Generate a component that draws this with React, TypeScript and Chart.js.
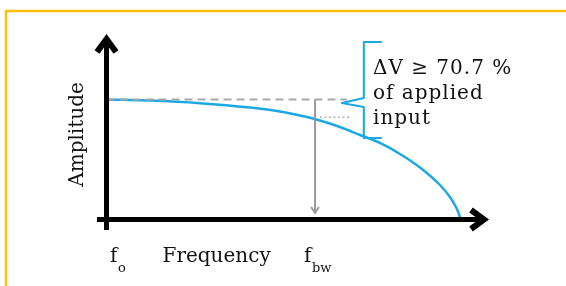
import React, { useEffect, useRef } from "react";
import { Chart, registerables } from "chart.js";

Chart.register(...registerables);

// Response curve (frequency in arbitrary units, fo = 0, end of band = 100; amplitude in % of applied input)
const frequency = [0, 12.31, 26.45, 40.59, 49.08, 54.74, 60.4, 66.05, 71.71, 77.37, 83.03, 88.68, 94.34, 97.17, 98.87, 99.72, 100];
const amplitude = [100, 99.08, 96.92, 93.25, 90.0, 86.67, 82.5, 77.08, 70.42, 63.75, 54.58, 43.33, 28.75, 18.75, 10.42, 4.58, 1.25];

// Annotation values
const appliedLevel = [100, 100];
const appliedRange = [0, 68];
const bandwidthFreq = [59, 59];
const bandwidthDrop = [100, 5.4];
const arrowHeadX = [57.9, 59, 60.1];
const arrowHeadY = [10.4, 5.4, 10.4];
const cutoffLevel = [85.2, 85.2];
const cutoffRange = [60.4, 69.2];
const braceX = [77.9, 72.8, 72.8, 66.6, 72.8, 72.8, 77.9];
const braceY = [147.9, 147.9, 101.25, 97.1, 93.75, 67.9, 67.9];

// Axis extents
const axisMaxX = [108.5];
const axisMaxY = [155.4];

// Text
const noteLines = ["ΔV ≥ 70.7 %", "of applied", "input"];
const xTitle = ["Frequency"];
const yTitle = ["Amplitude"];
const tickMain = ["f", "f"];
const tickSub = ["o", "bw"];
const tickAt = [0, 59];

const BLUE = "#1ba9e6";
const GREY = "#a8a8a8";
const YELLOW = "#ffbf0f";
const FONT = "'DejaVu Serif', serif";

const pts = (xs: number[], ys: number[]) => xs.map((x, i) => ({ x, y: ys[i] }));

const decorPlugin = {
  id: "decor",
  beforeDraw(chart: any) {
    const ctx = chart.ctx;
    ctx.save();
    ctx.fillStyle = "#ffffff";
    ctx.fillRect(0, 0, chart.width, chart.height);
    ctx.strokeStyle = YELLOW;
    ctx.lineWidth = 2.5;
    ctx.beginPath();
    ctx.moveTo(6, chart.height + 5);
    ctx.lineTo(6, 11);
    ctx.lineTo(chart.width + 5, 11);
    ctx.stroke();
    ctx.restore();
  },
  afterDatasetsDraw(chart: any) {
    const ctx = chart.ctx;
    const xs = chart.scales.x;
    const ys = chart.scales.y;
    const x0 = xs.getPixelForValue(0);
    const y0 = ys.getPixelForValue(0);
    const xEnd = xs.getPixelForValue(axisMaxX[0]);
    const yTop = ys.getPixelForValue(axisMaxY[0]);
    ctx.save();
    ctx.strokeStyle = "#000";
    ctx.lineWidth = 5;
    ctx.lineCap = "butt";
    ctx.lineJoin = "miter";
    // axes
    ctx.beginPath();
    ctx.moveTo(x0, y0 + 10.5);
    ctx.lineTo(x0, yTop + 6);
    ctx.moveTo(x0 - 9.5, y0);
    ctx.lineTo(xEnd - 6, y0);
    ctx.stroke();
    // arrow heads
    ctx.lineWidth = 6;
    ctx.beginPath();
    ctx.moveTo(x0 - 9.5, yTop + 19);
    ctx.lineTo(x0, yTop + 6);
    ctx.lineTo(x0 + 9.5, yTop + 19);
    ctx.stroke();
    ctx.beginPath();
    ctx.moveTo(xEnd - 19, y0 - 9.5);
    ctx.lineTo(xEnd - 6, y0);
    ctx.lineTo(xEnd - 19, y0 + 9.5);
    ctx.stroke();

    // texts
    ctx.fillStyle = "#111";
    ctx.textBaseline = "alphabetic";
    ctx.textAlign = "left";
    ctx.font = `20px ${FONT}`;
    ctx.fillText(xTitle[0], 162.5, 261.7);
    tickMain.forEach((m, i) => {
      const px = xs.getPixelForValue(tickAt[i]) + (i === 0 ? 3.5 : -11);
      ctx.font = `20px ${FONT}`;
      ctx.fillText(m, px, 261.7);
      const w = ctx.measureText(m).width;
      ctx.font = `13px ${FONT}`;
      ctx.fillText(tickSub[i], px + w + 0.5, 272);
    });
    ctx.save();
    ctx.translate(83.3, 134.5);
    ctx.rotate(-Math.PI / 2);
    ctx.font = `20px ${FONT}`;
    ctx.textAlign = "center";
    ctx.fillText(yTitle[0], 0, 0);
    ctx.restore();
    ctx.font = `20px ${FONT}`;
    (ctx as any).letterSpacing = "1px";
    const baselines = [74.3, 99.3, 123.5];
    noteLines.forEach((t, i) => ctx.fillText(t, 373, baselines[i]));
    (ctx as any).letterSpacing = "0px";
    ctx.restore();
  },
};

export default function App() {
  const ref = useRef<HTMLCanvasElement>(null);
  useEffect(() => {
    if (!ref.current) return;
    const chart = new Chart(ref.current, {
      type: "line",
      data: {
        datasets: [
          {
            data: pts(appliedRange, appliedLevel),
            borderColor: GREY,
            borderWidth: 2,
            borderDash: [8, 5],
            pointRadius: 0,
            tension: 0,
          },
          {
            data: pts(cutoffRange, cutoffLevel),
            borderColor: "#b4b4b4",
            borderWidth: 1.5,
            borderDash: [2, 2.5],
            pointRadius: 0,
            tension: 0,
          },
          {
            data: pts(bandwidthFreq, bandwidthDrop),
            borderColor: "#9a9a9a",
            borderWidth: 2,
            pointRadius: 0,
            tension: 0,
          },
          {
            data: pts(arrowHeadX, arrowHeadY),
            borderColor: "#9a9a9a",
            borderWidth: 2,
            pointRadius: 0,
            tension: 0,
          },
          {
            data: pts(frequency, amplitude),
            borderColor: BLUE,
            borderWidth: 2.5,
            pointRadius: 0,
            cubicInterpolationMode: "monotone",
          },
          {
            data: pts(braceX, braceY),
            borderColor: BLUE,
            borderWidth: 2,
            pointRadius: 0,
            tension: 0,
            borderJoinStyle: "round",
          },
        ],
      },
      options: {
        responsive: false,
        animation: false,
        events: [],
        layout: { padding: { left: 106.5, right: 76, top: 33, bottom: 66.5 } },
        plugins: { legend: { display: false }, tooltip: { enabled: false } },
        scales: {
          x: { type: "linear", min: 0, max: axisMaxX[0], display: false },
          y: { type: "linear", min: 0, max: axisMaxY[0], display: false },
        },
        datasets: { line: { clip: false } } as any,
      },
      plugins: [decorPlugin],
    } as any);
    return () => chart.destroy();
  }, []);
  return (
    <div style={{ position: "fixed", left: 0, top: 0, width: 566, height: 286, background: "#fff" }}>
      <canvas ref={ref} width={566} height={286} style={{ display: "block", width: 566, height: 286 }} />
    </div>
  );
}
